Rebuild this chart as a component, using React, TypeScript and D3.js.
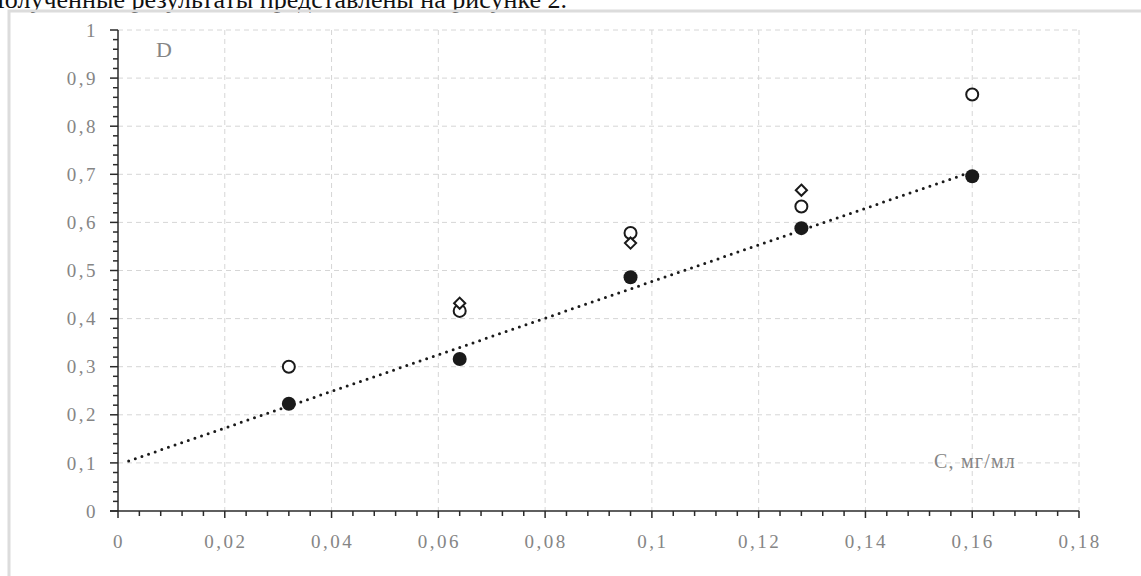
import React from "react";
import * as d3 from "d3";

// концентрация, мг/мл
const concentrations = [0.032, 0.064, 0.096, 0.128, 0.16];
// оптическая плотность — три серии
const filledValues = [0.223, 0.316, 0.486, 0.588, 0.696];
const openValues = [0.300, 0.416, 0.578, 0.633, 0.866];
const diamondX = [0.064, 0.096, 0.128];
const diamondValues = [0.432, 0.557, 0.667];

const xTicks = [0, 0.02, 0.04, 0.06, 0.08, 0.1, 0.12, 0.14, 0.16, 0.18];
const yTicks = [0, 0.1, 0.2, 0.3, 0.4, 0.5, 0.6, 0.7, 0.8, 0.9, 1];
const trendStart = 0.002;

const width = 1141,
    height = 576;

const fmt = (v: number) => String(+v.toFixed(3)).replace(".", ",");

const App = () => {
    const x = d3.scaleLinear().domain([0, 0.18]).range([118, 1079]);
    const y = d3.scaleLinear().domain([0, 1]).range([511, 30]);

    // линейная регрессия по заполненным точкам
    const mx = d3.mean(concentrations) as number;
    const my = d3.mean(filledValues) as number;
    const sxy = d3.sum(concentrations, (c, i) => (c - mx) * (filledValues[i] - my));
    const sxx = d3.sum(concentrations, (c) => (c - mx) * (c - mx));
    const b = sxy / sxx;
    const a = my - b * mx;
    const trendX = [trendStart, d3.max(concentrations) as number];
    const trendPath = d3.line<number>()
        .x((d) => x(d))
        .y((d) => y(a + b * d))(trendX);

    const xMinor = d3.range(0, 0.1801, 0.004);
    const yMinor = d3.range(0, 1.0001, 0.02);

    const labelColor = "#858585";
    const axisColor = "#2a2a2a";
    const font = "Liberation Serif, DejaVu Serif, serif";

    const diamond = d3.symbol().type(d3.symbolDiamond2).size(80)();

    return (
        <svg width={width} height={height} style={{ position: "absolute", left: 0, top: 0, background: "#fff" }}>
            <text x={-14} y={8} fontFamily={font} fontSize={25} fill="#111" textLength={581} lengthAdjust="spacingAndGlyphs">
                Полученные результаты представлены на рисунке 2.
            </text>
            {/* рамка */}
            <path d={`M9,${height + 5} V11 H${width + 5}`} fill="none" stroke="#dcdcdc" strokeWidth={3} />

            {/* сетка */}
            <g stroke="#d6d6d6" strokeWidth={1} strokeDasharray="5 4">
                {xTicks.filter((t) => t > 0).map((t) => (
                    <line key={"gx" + t} x1={x(t)} x2={x(t)} y1={y(1)} y2={y(0)} />
                ))}
                {yTicks.filter((t) => t > 0).map((t) => (
                    <line key={"gy" + t} x1={x(0)} x2={x(0.18)} y1={y(t)} y2={y(t)} />
                ))}
            </g>

            {/* оси */}
            <g stroke={axisColor} strokeWidth={1.5}>
                <line x1={x(0)} x2={x(0)} y1={y(1)} y2={y(0)} />
                <line x1={x(0) - 8} x2={x(0.18)} y1={y(0)} y2={y(0)} />
                {yMinor.map((t, i) => (
                    <line key={"ty" + i} x1={x(0) - (i % 5 === 0 ? 8 : 5)} x2={x(0)} y1={y(t)} y2={y(t)} />
                ))}
                {xMinor.map((t, i) => (
                    <line key={"tx" + i} x1={x(t)} x2={x(t)} y1={y(0)} y2={y(0) + (i % 5 === 0 ? 7 : 5)} />
                ))}
            </g>

            <g fontFamily={font} fontSize={19} fill={labelColor} letterSpacing={2.5}>
                {yTicks.map((t) => (
                    <text key={"ly" + t} x={98} y={y(t)} dy="0.35em" textAnchor="end">{fmt(t)}</text>
                ))}
                {xTicks.map((t) => (
                    <text key={"lx" + t} x={x(t) + 1} y={548} textAnchor="middle">{fmt(t)}</text>
                ))}
                <text x={156} y={57} fontSize={22} letterSpacing={0}>D</text>
                <text x={934} y={468} fontSize={20} letterSpacing={1.2}>C, мг/мл</text>
            </g>

            {/* линия тренда */}
            <path d={trendPath ?? ""} fill="none" stroke="#1a1a1a" strokeWidth={3} strokeLinecap="round" strokeDasharray="0 7" />

            {/* точки */}
            {concentrations.map((c, i) => (
                <circle key={"o" + i} cx={x(c)} cy={y(openValues[i])} r={6} fill="#fff" stroke="#1a1a1a" strokeWidth={2} />
            ))}
            {diamondX.map((c, i) => (
                <path key={"d" + i} d={diamond ?? ""} transform={`translate(${x(c)},${y(diamondValues[i])})`} fill="#fff" stroke="#1a1a1a" strokeWidth={2} />
            ))}
            {concentrations.map((c, i) => (
                <circle key={"f" + i} cx={x(c)} cy={y(filledValues[i])} r={7} fill="#1a1a1a" />
            ))}
        </svg>
    );
};

export default App;
